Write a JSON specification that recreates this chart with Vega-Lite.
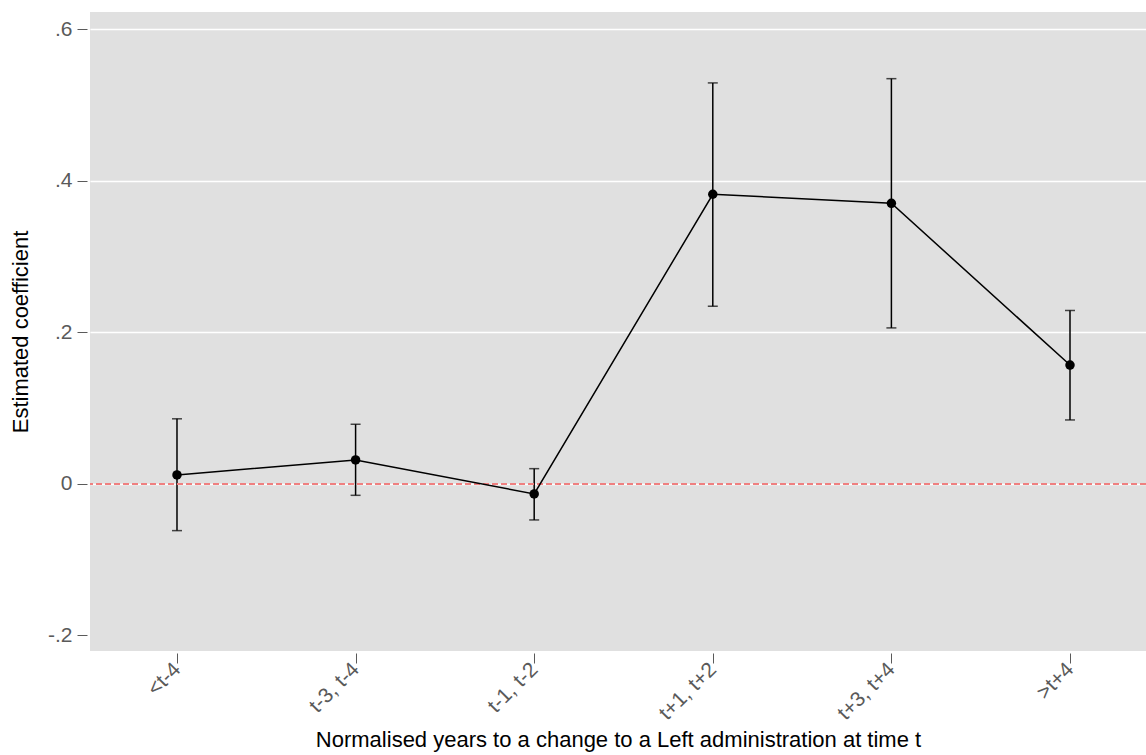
{
  "$schema": "https://vega.github.io/schema/vega-lite/v6.json",
  "width": 1056,
  "height": 639,
  "autosize": "none",
  "padding": {"left": 90, "top": 12, "right": 0, "bottom": 104},
  "background": "white",
  "config": {
    "view": {"fill": "#e0e0e0", "stroke": null},
    "font": "Liberation Sans"
  },
  "data": {
    "values": [
      {"period": "<t-4", "coef": 0.0119, "lo": -0.0616, "hi": 0.086},
      {"period": "t-3, t-4", "coef": 0.0317, "lo": -0.015, "hi": 0.0788},
      {"period": "t-1, t-2", "coef": -0.0132, "lo": -0.0475, "hi": 0.0202},
      {"period": "t+1, t+2", "coef": 0.3824, "lo": 0.2346, "hi": 0.5294},
      {"period": "t+3, t+4", "coef": 0.3705, "lo": 0.206, "hi": 0.535},
      {"period": ">t+4", "coef": 0.157, "lo": 0.0845, "hi": 0.229}
    ]
  },
  "encoding": {
    "x": {
      "field": "period",
      "type": "ordinal",
      "sort": null,
      "scale": {"type": "point", "padding": 0.4563, "align": 0.5337},
      "axis": {
        "title": "Normalised years to a change to a Left administration at time t",
        "titleFont": "Liberation Sans",
        "titleFontSize": 22,
        "titleFontWeight": "normal",
        "titleColor": "black",
        "titlePadding": 6,
        "labelAngle": -45,
        "labelAlign": "right",
        "labelBaseline": "middle",
        "labelFontSize": 21,
        "labelColor": "#5a5a5a",
        "labelPadding": 3,
        "offset": 2,
        "tickSize": 10,
        "tickColor": "#5a5a5a",
        "tickWidth": 1,
        "domain": false,
        "grid": false
      }
    }
  },
  "layer": [
    {
      "mark": {"type": "errorbar", "ticks": {"size": 10, "color": "black", "thickness": 1.5}, "rule": {"color": "black", "strokeWidth": 1.5}},
      "encoding": {
        "y": {"field": "hi", "type": "quantitative",
          "scale": {"domain": [-0.2205, 0.623], "nice": false, "zero": false},
          "axis": {
            "title": "Estimated coefficient",
            "titleFont": "Liberation Sans",
            "titleFontSize": 22,
            "titleFontWeight": "normal",
            "titleColor": "black",
            "titlePadding": 15,
            "values": [-0.2, 0, 0.2, 0.4, 0.6],
            "labelExpr": "datum.value == 0 ? '0' : replace(replace(format(datum.value, '.1f'), '0.', '.'), '\u2212', '-')",
            "labelFontSize": 21,
            "labelColor": "#5a5a5a",
            "labelPadding": 5,
            "offset": 3,
            "tickSize": 10,
            "tickColor": "#5a5a5a",
            "tickWidth": 1,
            "domain": false,
            "grid": true,
            "gridColor": {"condition": {"test": "datum.value < -0.1", "value": "transparent"}, "value": "white"},
            "gridWidth": 1.5
          }
        },
        "y2": {"field": "lo"}
      }
    },
    {
      "mark": {"type": "rule", "color": "#f08080", "strokeDash": [6, 3], "strokeWidth": 1.5},
      "encoding": {"y": {"datum": 0, "type": "quantitative"}, "x": null}
    },
    {
      "mark": {"type": "line", "color": "black", "strokeWidth": 1.5},
      "encoding": {"y": {"field": "coef", "type": "quantitative"}}
    },
    {
      "mark": {"type": "point", "filled": true, "color": "black", "opacity": 1, "size": 90},
      "encoding": {"y": {"field": "coef", "type": "quantitative"}}
    }
  ]
}
